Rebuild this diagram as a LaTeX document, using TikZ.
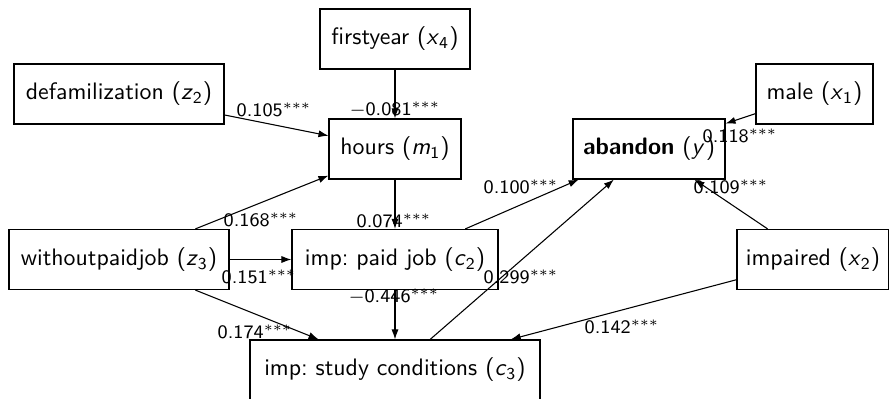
\documentclass[tikz,border=0pt]{standalone}
\usetikzlibrary{arrows.meta}
\renewcommand{\familydefault}{\sfdefault}
\newcommand{\vv}[2]{\textit{#1}\textsubscript{#2}}
\newcommand{\sig}{$^{***}$}
\begin{document}
\begin{tikzpicture}[x=0.42pt,y=-0.42pt,
  box/.style={draw, line width=0.5pt, minimum height=25.2pt, inner sep=0pt, font=\normalsize},
  conn/.style={line width=0.45pt, -{Latex[length=4.2pt,width=3pt]}},
  lab/.style={font=\footnotesize, inner sep=0pt}]
\useasboundingbox (0,0) rectangle (889,399);
\node[box, minimum width=63pt] (fy) at (395,39) {firstyear (\vv{x}{4})};
\node[box, minimum width=88.2pt] (def) at (119,94) {defamilization (\vv{z}{2})};
\node[box, minimum width=55.4pt] (hrs) at (395,149) {hours (\vv{m}{1})};
\node[box, minimum width=49.1pt] (male) at (814.5,94) {male (\vv{x}{1})};
\node[box, minimum width=63.8pt] (ab) at (649,149) {\textbf{abandon} (\vv{y}{})};
\node[box, minimum width=92.4pt] (wpj) at (119,259.5) {withoutpaidjob (\vv{z}{3})};
\node[box, minimum width=86.5pt] (pj) at (395,259.5) {imp:\ paid job (\vv{c}{2})};
\node[box, minimum width=63.8pt] (imp) at (813,259.5) {impaired (\vv{x}{2})};
\node[box, minimum width=121.8pt] (sc) at (395,370) {imp:\ study conditions (\vv{c}{3})};

\draw[conn] (fy) -- (hrs);
\draw[conn] (def) -- (hrs);
\draw[conn] (wpj) -- (hrs);
\draw[conn] (wpj) -- (pj);
\draw[conn] (wpj) -- (sc);
\draw[conn] (hrs) -- (pj);
\draw[conn] (pj) -- (sc);
\draw[conn] (pj) -- (ab);
\draw[conn] (sc) -- (ab);
\draw[conn] (imp) -- (ab);
\draw[conn] (male) -- (ab);
\draw[conn] (imp) -- (sc);

\node[lab] (l1) at (274,110) {0.105\sig};
\node[lab] (l2) at (395,110) {$-$0.081\sig};
\node[lab] (l3) at (261,220) {0.168\sig};
\node[lab] (l4) at (394,221) {0.074\sig};
\node[lab] (l5) at (259,277) {0.151\sig};
\node[lab] (l6) at (394,297) {$-$0.446\sig};
\node[lab] (l7) at (255,332) {0.174\sig};
\node[lab] (l8) at (521,187) {0.100\sig};
\node[lab] (l9) at (521,277) {0.299\sig};
\node[lab] (l10) at (731,187) {0.109\sig};
\node[lab] (l11) at (740,136) {0.118\sig};
\node[lab] (l12) at (622,327) {0.142\sig};
\end{tikzpicture}
\end{document}
